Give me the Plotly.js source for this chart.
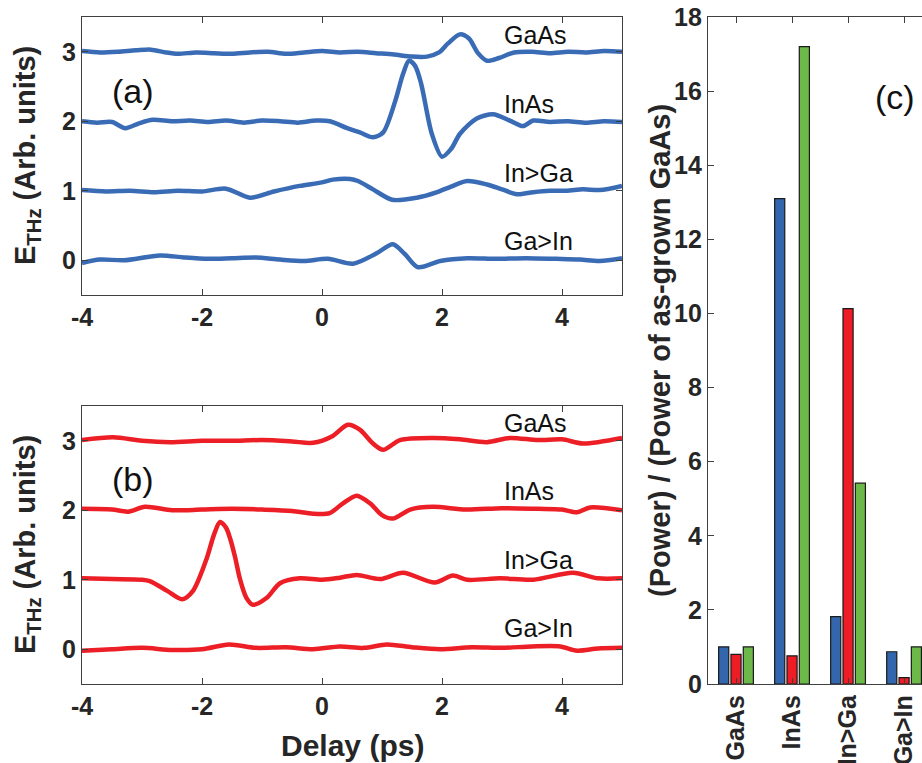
<!DOCTYPE html>
<html>
<head>
<meta charset="utf-8">
<script src="https://cdn.plot.ly/plotly-3.0.1.min.js"></script>
<style>html,body{margin:0;padding:0;background:#fff;}#chart{width:922px;height:763px;}</style>
</head>
<body>
<div id="chart"></div>
<script>
// ---------- Panel (a) : blue THz waveforms (offset traces) ----------
var aGaAsX = [-4,-3.7,-3.4,-3.1,-2.85,-2.6,-2.4,-2.1,-1.8,-1.5,-1.2,-0.9,-0.6,-0.3,0,0.3,0.6,0.9,1.2,1.5,1.75,1.95,2.1,2.3,2.45,2.6,2.75,2.95,3.2,3.5,3.8,4.1,4.4,4.7,5];
var aGaAsY = [3.01,2.99,3.0,3.02,3.03,2.99,2.97,2.99,2.98,2.97,2.99,3.0,2.97,2.99,3.01,2.99,3.0,2.98,2.96,2.93,2.93,2.99,3.12,3.25,3.19,2.98,2.87,2.91,2.99,3.0,2.98,3.0,2.99,3.01,3.0];

var aInAsX = [-4,-3.75,-3.5,-3.28,-3.05,-2.82,-2.5,-2.2,-1.9,-1.6,-1.3,-1.0,-0.7,-0.4,-0.1,0.13,0.42,0.63,0.85,1.02,1.22,1.35,1.45,1.55,1.65,1.83,2.0,2.15,2.3,2.58,2.85,3.13,3.35,3.52,3.8,4.1,4.4,4.7,5];
var aInAsY = [2.0,1.98,1.99,1.9,1.97,2.02,2.0,2.01,1.99,2.01,1.98,2.01,2.0,1.98,2.01,2.0,1.9,1.84,1.77,1.84,2.29,2.68,2.87,2.8,2.55,1.82,1.49,1.6,1.82,2.04,2.1,2.01,1.93,2.01,1.99,2.0,1.98,2.0,1.99];

var aInGaX = [-4,-3.6,-3.2,-2.8,-2.4,-2.0,-1.6,-1.2,-0.8,-0.37,0.0,0.18,0.47,0.6,0.85,1.17,1.58,1.92,2.15,2.42,2.75,3.0,3.25,3.52,3.8,4.08,4.35,4.63,5];
var aInGaY = [1.01,0.99,1.0,0.98,1.0,0.99,1.03,0.9,0.99,1.07,1.12,1.16,1.17,1.14,1.02,0.87,0.9,0.98,1.06,1.14,1.09,1.02,0.95,0.98,1.0,1.0,1.02,1.01,1.07];

var aGaInX = [-4,-3.7,-3.3,-2.7,-2.3,-1.9,-1.5,-1.1,-0.7,-0.3,0.1,0.52,0.91,1.18,1.38,1.6,1.97,2.42,2.9,3.4,3.9,4.3,4.63,5];
var aGaInY = [-0.04,0.01,0.0,0.07,0.04,0.02,0.03,0.04,0.01,-0.01,0.02,-0.05,0.1,0.23,0.09,-0.1,-0.01,0.03,0.02,0.03,0.02,0.01,-0.01,0.03];

// ---------- Panel (b) : red THz waveforms ----------
var bGaAsX = [-4,-3.48,-3.0,-2.53,-2.0,-1.5,-1.0,-0.5,-0.15,0.18,0.43,0.63,0.85,1.02,1.3,1.85,2.3,2.75,3.13,3.6,4.0,4.35,5];
var bGaAsY = [3.01,3.05,3.0,2.98,3.0,3.0,3.01,2.99,2.97,3.07,3.23,3.16,2.96,2.87,3.01,3.04,3.02,2.98,3.04,3.01,3.02,2.96,3.04];

var bInAsX = [-4,-3.5,-3.23,-2.95,-2.5,-2.0,-1.5,-1.0,-0.5,-0.15,0.13,0.35,0.58,0.8,1.0,1.18,1.47,1.85,2.4,3.0,3.6,4.0,4.25,4.47,5];
var bInAsY = [2.02,2.01,1.98,2.05,2.0,2.01,2.02,2.01,1.99,1.95,1.96,2.1,2.21,2.1,1.93,1.88,2.01,2.05,2.01,2.03,2.02,2.01,1.97,2.04,2.0];

var bInGaX = [-4,-3.5,-3.0,-2.87,-2.58,-2.33,-2.15,-1.92,-1.8,-1.7,-1.6,-1.53,-1.45,-1.37,-1.26,-1.15,-0.92,-0.7,-0.37,0.0,0.3,0.58,0.97,1.35,1.88,2.18,2.42,2.97,3.52,4.18,4.6,5];
var bInGaY = [1.02,1.01,1.0,0.98,0.84,0.72,0.84,1.31,1.65,1.83,1.75,1.59,1.33,1.02,0.74,0.64,0.74,0.95,1.02,1.0,1.03,1.07,1.01,1.1,0.96,1.06,1.0,1.02,1.0,1.1,1.02,1.02];

var bGaInX = [-4,-3.5,-3.0,-2.5,-2.0,-1.55,-1.1,-0.6,-0.15,0.3,0.7,1.08,1.5,1.97,2.5,3.0,3.5,3.97,4.25,4.6,5];
var bGaInY = [-0.02,0.0,0.02,-0.01,0.0,0.07,0.02,0.03,0.0,0.04,0.02,0.07,0.03,0.0,0.03,0.02,0.04,0.04,-0.02,0.01,0.02];

// ---------- Panel (c) : power ratios ----------
var samples = ['GaAs', 'InAs', 'In>Ga', 'Ga>In'];
var powerBlue = [1.0, 13.1, 1.82, 0.87];
var powerRed = [0.8, 0.76, 10.13, 0.17];
var powerGreen = [1.0, 17.2, 5.42, 1.0];

var yTicksWave = [0, 1, 2, 3];
var xTicksDelay = [-4, -2, 0, 2, 4];
var yTicksPower = [0, 2, 4, 6, 8, 10, 12, 14, 16, 18];

// ---------- styles ----------
var FONT = 'Liberation Sans, Arial, Helvetica, sans-serif';
var BLUE_LINE = '#3a6cb6';
var RED_LINE = '#ec1f26';
var AX = '#404040';

function wave(x, y, color, xa, ya) {
  return {x: x, y: y, type: 'scatter', mode: 'lines', xaxis: xa, yaxis: ya,
          line: {color: color, width: 4.5, shape: 'spline', smoothing: 0.8},
          showlegend: false, hoverinfo: 'skip'};
}

var traces = [
  wave(aGaAsX, aGaAsY, BLUE_LINE, 'x', 'y'),
  wave(aInAsX, aInAsY, BLUE_LINE, 'x', 'y'),
  wave(aInGaX, aInGaY, BLUE_LINE, 'x', 'y'),
  wave(aGaInX, aGaInY, BLUE_LINE, 'x', 'y'),
  wave(bGaAsX, bGaAsY, RED_LINE, 'x2', 'y2'),
  wave(bInAsX, bInAsY, RED_LINE, 'x2', 'y2'),
  wave(bInGaX, bInGaY, RED_LINE, 'x2', 'y2'),
  wave(bGaInX, bGaInY, RED_LINE, 'x2', 'y2')
];

function bars(vals, color) {
  return {x: samples, y: vals, type: 'bar', xaxis: 'x3', yaxis: 'y3',
          marker: {color: color, line: {color: '#1a1a1a', width: 1.2}},
          showlegend: false, hoverinfo: 'skip'};
}
traces.push(bars(powerBlue, '#3466ae'));
traces.push(bars(powerRed, '#ee1c24'));
traces.push(bars(powerGreen, '#6cb94a'));

var tickFont = {family: FONT, size: 25, color: '#262626', weight: 'bold'};

function waveX(domainY) {
  return {domain: [82/922, 622/922], range: [-4, 5], tickvals: xTicksDelay,
          ticktext: xTicksDelay.map(String), ticks: 'inside', ticklen: 6, tickwidth: 1,
          tickcolor: AX, showline: true, linecolor: AX, linewidth: 1.2, mirror: 'ticks',
          showgrid: false, zeroline: false, tickfont: tickFont, anchor: domainY};
}
function waveY(dom, anchorX) {
  return {domain: dom, range: [-0.5, 3.5], tickvals: yTicksWave, ticks: 'inside',
          ticklen: 6, tickwidth: 1, tickcolor: AX, showline: true, linecolor: AX,
          linewidth: 1.2, mirror: 'ticks', showgrid: false, zeroline: false,
          tickfont: tickFont, anchor: anchorX};
}

var labFont = {family: FONT, size: 25, color: '#111'};
function lab(text, x, y, xr, yr) {
  return {text: text, x: x, y: y, xref: xr, yref: yr, xanchor: 'left', yanchor: 'middle',
          showarrow: false, font: labFont};
}
var titleFont = {family: FONT, size: 29, color: '#262626', weight: 'bold'};

var layout = {
  width: 922, height: 763,
  margin: {l: 0, r: 0, t: 0, b: 0},
  paper_bgcolor: '#ffffff', plot_bgcolor: '#ffffff',
  bargap: 0.34, bargroupgap: 0.18, barmode: 'group',
  xaxis: waveX('y'),
  yaxis: waveY([1 - 295/763, 1 - 17/763], 'x'),
  xaxis2: waveX('y2'),
  yaxis2: waveY([1 - 684/763, 1 - 406/763], 'x2'),
  xaxis3: {domain: [708/922, 1], range: [-0.5, 3.32], type: 'category',
           ticks: 'inside', ticklen: 6, tickwidth: 1, tickcolor: AX, showline: true,
           linecolor: AX, linewidth: 1.2, mirror: 'ticks', showgrid: false,
           tickangle: -90, tickfont: tickFont, anchor: 'y3'},
  yaxis3: {domain: [1 - 684/763, 1 - 17/763], range: [0, 18], tickvals: yTicksPower,
           ticks: 'inside', ticklen: 6, tickwidth: 1, tickcolor: AX, showline: true,
           linecolor: AX, linewidth: 1.2, mirror: false, showgrid: false, zeroline: false,
           tickfont: tickFont, anchor: 'x3'},
  annotations: [
    lab('GaAs', 3.0, 3.24, 'x', 'y'),
    lab('InAs', 3.0, 2.25, 'x', 'y'),
    lab('In&gt;Ga', 3.0, 1.26, 'x', 'y'),
    lab('Ga&gt;In', 3.0, 0.27, 'x', 'y'),
    lab('GaAs', 3.0, 3.26, 'x2', 'y2'),
    lab('InAs', 3.0, 2.28, 'x2', 'y2'),
    lab('In&gt;Ga', 3.0, 1.28, 'x2', 'y2'),
    lab('Ga&gt;In', 3.0, 0.30, 'x2', 'y2'),
    {text: '(a)', x: -3.15, y: 2.43, xref: 'x', yref: 'y', xanchor: 'center', yanchor: 'middle',
     showarrow: false, font: {family: FONT, size: 34, color: '#111'}},
    {text: '(b)', x: -3.15, y: 2.45, xref: 'x2', yref: 'y2', xanchor: 'center', yanchor: 'middle',
     showarrow: false, font: {family: FONT, size: 34, color: '#111'}},
    {text: '(c)', x: 2.84, y: 15.84, xref: 'x3', yref: 'y3', xanchor: 'center', yanchor: 'middle',
     showarrow: false, font: {family: FONT, size: 34, color: '#111'}},
    {text: 'E<sub>THz</sub> (Arb. units)', x: 27/922, y: 1 - 156/763, xref: 'paper', yref: 'paper',
     xanchor: 'center', yanchor: 'middle', textangle: -90, showarrow: false, font: titleFont},
    {text: 'E<sub>THz</sub> (Arb. units)', x: 27/922, y: 1 - 545/763, xref: 'paper', yref: 'paper',
     xanchor: 'center', yanchor: 'middle', textangle: -90, showarrow: false, font: titleFont},
    {text: 'Delay (ps)', x: 352/922, y: 1 - 745/763, xref: 'paper', yref: 'paper',
     xanchor: 'center', yanchor: 'middle', showarrow: false,
     font: {family: FONT, size: 30, color: '#262626', weight: 'bold'}},
    {text: '(Power) / (Power of as-grown GaAs)', x: 660/922, y: 1 - 351/763, xref: 'paper', yref: 'paper',
     xanchor: 'center', yanchor: 'middle', textangle: -90, showarrow: false, font: titleFont}
  ]
};

Plotly.newPlot('chart', traces, layout, {staticPlot: true, displayModeBar: false});
</script>
</body>
</html>
